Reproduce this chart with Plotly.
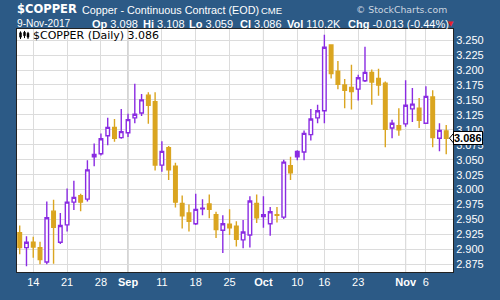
import plotly.graph_objects as go

# ---------------- data ----------------
DATES = [
    "2017-08-10", "2017-08-11", "2017-08-14", "2017-08-15", "2017-08-16", "2017-08-17", "2017-08-18",
    "2017-08-21", "2017-08-22", "2017-08-23", "2017-08-24", "2017-08-25",
    "2017-08-28", "2017-08-29", "2017-08-30", "2017-08-31", "2017-09-01",
    "2017-09-05", "2017-09-06", "2017-09-07", "2017-09-08",
    "2017-09-11", "2017-09-12", "2017-09-13", "2017-09-14", "2017-09-15",
    "2017-09-18", "2017-09-19", "2017-09-20", "2017-09-21", "2017-09-22",
    "2017-09-25", "2017-09-26", "2017-09-27", "2017-09-28", "2017-09-29",
    "2017-10-02", "2017-10-03", "2017-10-04", "2017-10-05", "2017-10-06",
    "2017-10-10", "2017-10-11", "2017-10-12", "2017-10-13",
    "2017-10-16", "2017-10-17", "2017-10-18", "2017-10-19", "2017-10-20",
    "2017-10-23", "2017-10-24", "2017-10-25", "2017-10-26", "2017-10-27",
    "2017-10-30", "2017-10-31", "2017-11-01", "2017-11-02", "2017-11-03",
    "2017-11-06", "2017-11-07", "2017-11-08", "2017-11-09",
]
OPEN = [
    2.928, 2.903, 2.912, 2.903, 2.879, 2.964, 2.912,
    2.941, 2.979, 2.990, 2.984, 3.059,
    3.060, 3.090, 3.104, 3.087, 3.095,
    3.120, 3.128, 3.158, 3.147,
    3.041, 3.070, 3.039, 2.977, 2.961,
    2.943, 2.968, 2.976, 2.958, 2.932,
    2.942, 2.939, 2.916, 2.924, 2.977,
    2.958, 2.943, 2.958, 2.954, 3.040,
    3.064, 3.063, 3.092, 3.120,
    3.132, 3.242, 3.198, 3.175, 3.171,
    3.168, 3.182, 3.196, 3.186, 3.178,
    3.103, 3.107, 3.110, 3.135, 3.136,
    3.111, 3.155, 3.086, 3.098,
]
HIGH = [
    2.940, 2.922, 2.921, 2.913, 2.980, 2.983, 2.961,
    3.002, 3.015, 2.993, 3.049, 3.077,
    3.094, 3.120, 3.118, 3.135, 3.127,
    3.177, 3.160, 3.163, 3.163,
    3.081, 3.073, 3.045, 2.990, 2.975,
    2.993, 2.984, 2.992, 2.963, 2.957,
    2.967, 2.947, 2.949, 2.989, 2.992,
    2.989, 2.971, 2.971, 3.050, 3.055,
    3.066, 3.099, 3.135, 3.142,
    3.259, 3.242, 3.215, 3.185, 3.209,
    3.192, 3.239, 3.201, 3.202, 3.181,
    3.117, 3.136, 3.183, 3.170, 3.153,
    3.173, 3.166, 3.111, 3.108,
]
LOW = [
    2.892, 2.872, 2.886, 2.875, 2.875, 2.876, 2.909,
    2.930, 2.966, 2.964, 2.980, 3.039,
    3.057, 3.074, 3.080, 3.085, 3.088,
    3.111, 3.123, 3.110, 3.032,
    3.030, 3.016, 2.970, 2.935, 2.930,
    2.941, 2.957, 2.952, 2.919, 2.894,
    2.924, 2.905, 2.902, 2.903, 2.944,
    2.936, 2.923, 2.945, 2.951, 3.016,
    3.049, 3.049, 3.082, 3.111,
    3.111, 3.186, 3.168, 3.136, 3.134,
    3.149, 3.180, 3.142, 3.157, 3.071,
    3.086, 3.090, 3.105, 3.113, 3.103,
    3.110, 3.071, 3.064, 3.059,
]
CLOSE = [
    2.903, 2.912, 2.904, 2.883, 2.953, 2.937, 2.940,
    2.979, 2.987, 2.979, 3.033, 3.055,
    3.085, 3.104, 3.086, 3.097, 3.117,
    3.126, 3.150, 3.141, 3.041,
    3.064, 3.033, 2.979, 2.956, 2.947,
    2.967, 2.969, 2.967, 2.933, 2.943,
    2.936, 2.917, 2.929, 2.981, 2.953,
    2.955, 2.963, 2.957, 3.046, 3.028,
    3.055, 3.094, 3.118, 3.132,
    3.238, 3.194, 3.176, 3.166, 3.164,
    3.187, 3.196, 3.180, 3.175, 3.101,
    3.111, 3.100, 3.141, 3.143, 3.116,
    3.156, 3.087, 3.099, 3.086,
]
PREV_CLOSE = 2.925  # close before the first visible bar (estimated)

WEEK_TICKS = ["2017-08-14", "2017-08-21", "2017-08-28", "2017-09-11", "2017-09-18",
              "2017-09-25", "2017-10-10", "2017-10-16", "2017-10-23", "2017-11-06"]
WEEK_LABELS = ["14", "21", "28", "11", "18", "25", "10", "16", "23", "6"]
MONTH_TICKS = ["2017-09-01", "2017-10-02", "2017-11-01"]
MONTH_LABELS = ["Sep", "Oct", "Nov"]
Y_TICKS = [2.875, 2.900, 2.925, 2.950, 2.975, 3.000, 3.025, 3.050,
           3.075, 3.100, 3.125, 3.150, 3.175, 3.200, 3.225, 3.250]

HEADER_SYMBOL = "$COPPER"
HEADER_NAME = "Copper - Continuous Contract (EOD)"
HEADER_EXCH = "CME"
HEADER_DATE = "9-Nov-2017"
VOLUME = "110.2K"
CHANGE = "-0.013 (-0.44%)"

# ---------------- styling ----------------
BLUE = "#2c5a86"
PURPLE = "#8a2be2"
GOLD = "#daa520"
GRID = "#dcdcdc"
MONTH_GRID = "#a8a8a8"
SANS = "Liberation Sans, Arial, sans-serif"
VERD = "DejaVu Sans, Verdana, sans-serif"

W, H = 500, 300
L, R, T, B = 17, 47, 29, 17
PW, PH = W - L - R, H - T - B
Y_RANGE = [2.8622, 3.2686]


def px(xp):
    return (xp - L) / PW


def py(yp):
    return (H - B - yp) / PH


prev = [PREV_CLOSE] + CLOSE[:-1]
up = [c >= p for c, p in zip(CLOSE, prev)]

fig = go.Figure()
for flag, col in ((True, PURPLE), (False, GOLD)):
    idx = [i for i, u in enumerate(up) if u == flag]
    fig.add_trace(go.Candlestick(
        x=[DATES[i] for i in idx],
        open=[OPEN[i] for i in idx],
        high=[HIGH[i] for i in idx],
        low=[LOW[i] for i in idx],
        close=[CLOSE[i] for i in idx],
        increasing=dict(line=dict(color=col, width=1.4), fillcolor="white"),
        decreasing=dict(line=dict(color=col, width=1.4), fillcolor=col),
        whiskerwidth=0,
        showlegend=False,
        hoverinfo="skip",
    ))

tickvals = WEEK_TICKS + MONTH_TICKS
ticktext = WEEK_LABELS + ["<b>%s</b>" % m for m in MONTH_LABELS]

shapes = []
for m in MONTH_TICKS:
    shapes.append(dict(type="line", xref="x", yref="paper", x0=m, x1=m, y0=0, y1=1,
                       line=dict(color=MONTH_GRID, width=1), layer="between"))

# small candlestick icon before the in-chart label
for xo, top, bot, wt, wb in ((20.5, 33, 37.5, 31.5, 39.5), (24.5, 32.5, 36, 31, 38.5), (28.0, 33.5, 37.5, 32, 39.5)):
    shapes.append(dict(type="line", xref="paper", yref="paper", x0=px(xo), x1=px(xo),
                       y0=py(wt), y1=py(wb), line=dict(color="black", width=1)))
    shapes.append(dict(type="rect", xref="paper", yref="paper", x0=px(xo - 1), x1=px(xo + 1),
                       y0=py(top), y1=py(bot), line=dict(color="black", width=0.5), fillcolor="black"))

# last price pointer
last = CLOSE[-1]
dv = 5.0 / PH * (Y_RANGE[1] - Y_RANGE[0])
shapes.append(dict(type="path", xref="paper", yref="y",
                   path="M %f %f L %f %f L %f %f Z" % (px(453.5), last + dv, px(449.5), last, px(453.5), last - dv),
                   fillcolor="white", line=dict(color="black", width=1), layer="above"))

ann = []


def add(text, x, y, size, color="white", family=SANS, anchor="left"):
    ann.append(dict(text=text, x=px(x), y=py(y), xref="paper", yref="paper", showarrow=False,
                    xanchor=anchor, yanchor="middle", font=dict(size=size, color=color, family=family)))


add("<b>%s</b>" % HEADER_SYMBOL, 15, 8, 11.5, family=VERD)
add(HEADER_NAME, 80, 9, 10.8)
add(HEADER_EXCH, 259, 9.5, 9.5)
add("© StockCharts.com", 354, 8.5, 9.3, color="#cdd6e0", family=VERD)
add(HEADER_DATE, 15, 23.5, 10.2)

pairs = [
    ("Op", "%.3f" % OPEN[-1], 90),
    ("Hi", "%.3f" % HIGH[-1], 141),
    ("Lo", "%.3f" % LOW[-1], 187),
    ("Cl", "%.3f" % CLOSE[-1], 237.5),
    ("Vol", VOLUME, 284.5),
    ("Chg", CHANGE, 345.5),
]
for lab, val, x in pairs:
    add("<b>%s</b> %s" % (lab, val), x, 23.5, 11)
add("▼", 446, 23.5, 7, color="#e8202a", family=VERD)

add("%s (Daily) %.3f" % (HEADER_SYMBOL, last), 31, 35.5, 11, color="black", family=VERD)

ann.append(dict(text="<b>%.3f</b>" % last, x=px(452.5), y=last, xref="paper", yref="y",
                showarrow=False, xanchor="left", yanchor="middle",
                font=dict(size=11, color="black", family=SANS),
                bgcolor="white", bordercolor="black", borderwidth=1, borderpad=0))

fig.update_layout(
    width=W, height=H,
    margin=dict(l=L, r=R, t=T, b=B),
    paper_bgcolor=BLUE, plot_bgcolor="white",
    boxgap=0.25,
    shapes=shapes, annotations=ann,
    xaxis=dict(
        type="category", categoryorder="array", categoryarray=DATES,
        range=[-0.4, 64.0], rangeslider=dict(visible=False),
        tickmode="array", tickvals=tickvals, ticktext=ticktext,
        showgrid=True, gridcolor=GRID, gridwidth=1,
        tickfont=dict(size=11, color="white", family=SANS),
        ticks="", showline=True, linecolor="#222222", linewidth=1, mirror=True,
        fixedrange=True,
    ),
    yaxis=dict(
        side="right", range=Y_RANGE,
        tickmode="array", tickvals=Y_TICKS, ticktext=["%.3f" % v for v in Y_TICKS],
        showgrid=True, gridcolor=GRID, gridwidth=1, zeroline=False,
        tickfont=dict(size=11, color="white", family=SANS),
        ticks="", showline=True, linecolor="#222222", linewidth=1, mirror=True,
        fixedrange=True,
    ),
)

fig.write_html("out.html")
